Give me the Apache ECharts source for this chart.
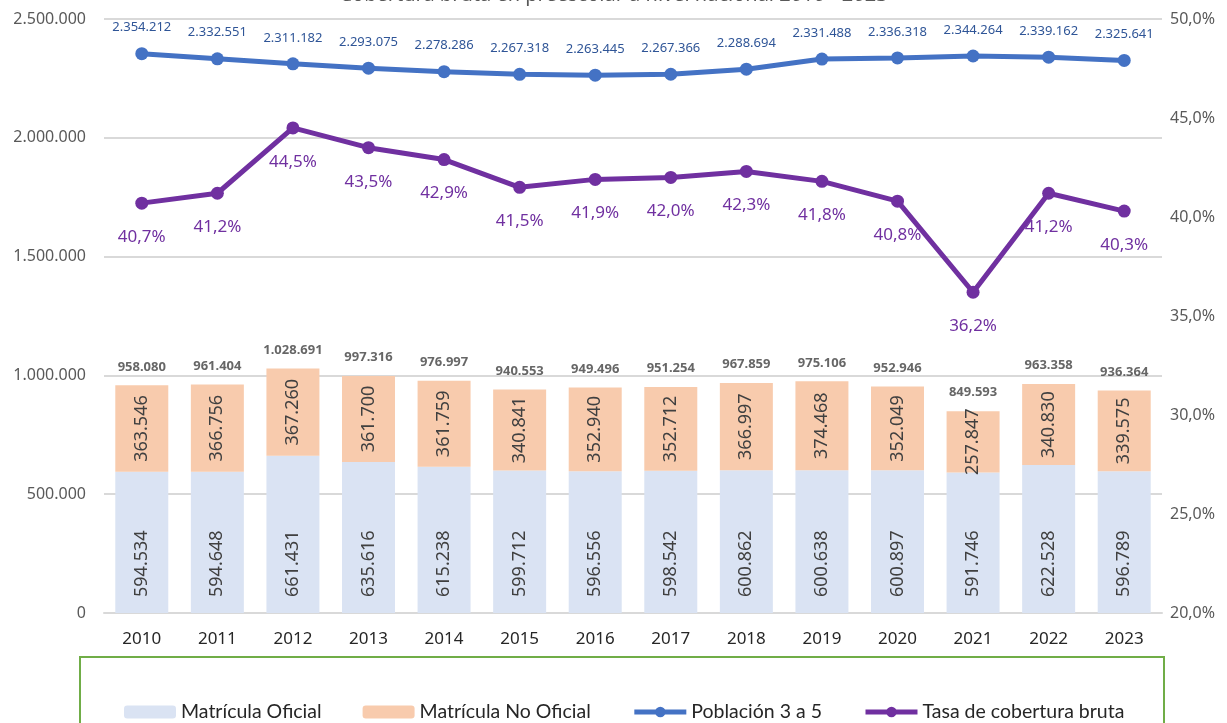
<!DOCTYPE html>
<html>
<head>
<meta charset="utf-8">
<script src="https://cdn.jsdelivr.net/npm/echarts@6/dist/echarts.min.js"></script>
<style>
  html, body { margin: 0; padding: 0; background: #fff; }
  #chart { width: 1227px; height: 723px; }
</style>
</head>
<body>
<div id="chart"></div>
<script>
const years = ['2010', '2011', '2012', '2013', '2014', '2015', '2016', '2017', '2018', '2019', '2020', '2021', '2022', '2023'];
const matriculaOficial = [594534, 594648, 661431, 635616, 615238, 599712, 596556, 598542, 600862, 600638, 600897, 591746, 622528, 596789];
const matriculaNoOficial = [363546, 366756, 367260, 361700, 361759, 340841, 352940, 352712, 366997, 374468, 352049, 257847, 340830, 339575];
const poblacion = [2354212, 2332551, 2311182, 2293075, 2278286, 2267318, 2263445, 2267366, 2288694, 2331488, 2336318, 2344264, 2339162, 2325641];
const tasaCobertura = [40.7, 41.2, 44.5, 43.5, 42.9, 41.5, 41.9, 42.0, 42.3, 41.8, 40.8, 36.2, 41.2, 40.3];
const leftTicks = [0, 500000, 1000000, 1500000, 2000000, 2500000];
const rightTicks = [20, 25, 30, 35, 40, 45, 50];

// total de matrícula (oficial + no oficial) para la etiqueta sobre cada barra
const totales = matriculaOficial.map((v, i) => v + matriculaNoOficial[i]);

const miles = n => String(n).replace(/\B(?=(\d{3})+(?!\d))/g, '.');
const pct = v => v.toFixed(1).replace('.', ',') + '%';

const FONT = 'Noto Sans';
const chart = echarts.init(document.getElementById('chart'));

chart.setOption({
  animation: false,
  textStyle: { fontFamily: FONT },
  title: {
    text: 'Cobertura bruta en preescolar a nivel nacional 2010 - 2023',
    left: 'center',
    top: -20,
    textStyle: { fontFamily: FONT, fontSize: 20, fontWeight: 'normal', color: '#595959' }
  },
  grid: { left: 104, right: 65, top: 19, bottom: 110 },
  legend: {
    left: 119,
    top: 697,
    itemWidth: 52,
    itemHeight: 13,
    itemGap: 41,
    lineStyle: { width: 5 },
    textStyle: { fontFamily: 'Lato', fontSize: 19.5, color: '#262626' },
    data: ['Matrícula Oficial', 'Matrícula No Oficial', 'Población 3 a 5', 'Tasa de cobertura bruta']
  },
  graphic: [{
    type: 'rect',
    shape: { x: 80, y: 657, width: 1084, height: 90 },
    style: { fill: 'none', stroke: '#70AD47', lineWidth: 2 }
  }],
  xAxis: {
    type: 'category',
    data: years,
    axisTick: { show: false },
    axisLine: { lineStyle: { color: '#D9D9D9', width: 2 } },
    axisLabel: { margin: 18, fontSize: 17, color: '#262626' }
  },
  yAxis: [{
    type: 'value',
    min: leftTicks[0],
    max: leftTicks[leftTicks.length - 1],
    interval: leftTicks[1] - leftTicks[0],
    axisLabel: { margin: 18, fontSize: 16, color: '#595959', formatter: miles },
    splitLine: { lineStyle: { color: '#D9D9D9', width: 2 } }
  }, {
    type: 'value',
    min: rightTicks[0],
    max: rightTicks[rightTicks.length - 1],
    interval: rightTicks[1] - rightTicks[0],
    axisLabel: { margin: 8, fontSize: 16, color: '#595959', formatter: pct },
    splitLine: { show: false }
  }],
  series: [{
    name: 'Matrícula Oficial',
    type: 'bar',
    stack: 'matricula',
    barWidth: 53,
    data: matriculaOficial,
    itemStyle: { color: '#DAE3F3' },
    label: {
      show: true,
      position: 'insideBottom',
      distance: 16,
      rotate: 90,
      align: 'left',
      verticalAlign: 'middle',
      fontSize: 18,
      color: '#404040',
      formatter: p => miles(p.value)
    }
  }, {
    name: 'Matrícula No Oficial',
    type: 'bar',
    stack: 'matricula',
    barWidth: 53,
    data: matriculaNoOficial,
    itemStyle: { color: '#F8CBAD' },
    label: {
      show: true,
      position: 'inside',
      rotate: 90,
      fontSize: 18,
      color: '#404040',
      formatter: p => miles(p.value)
    }
  }, {
    name: 'Total',
    type: 'scatter',
    data: totales,
    symbolSize: 0,
    silent: true,
    label: {
      show: true,
      position: 'top',
      distance: 12,
      fontSize: 13,
      fontWeight: 'bold',
      color: '#404040',
      formatter: p => miles(p.value)
    }
  }, {
    name: 'Población 3 a 5',
    type: 'line',
    data: poblacion,
    symbol: 'circle',
    symbolSize: 13,
    color: '#4472C4',
    lineStyle: { width: 5, color: '#4472C4' },
    itemStyle: { color: '#4472C4' },
    label: {
      show: true,
      position: 'top',
      distance: 13,
      fontSize: 13,
      color: '#2F5597',
      formatter: p => miles(p.value)
    }
  }, {
    name: 'Tasa de cobertura bruta',
    type: 'line',
    yAxisIndex: 1,
    data: tasaCobertura,
    symbol: 'circle',
    symbolSize: 13,
    color: '#7030A0',
    lineStyle: { width: 5, color: '#7030A0' },
    itemStyle: { color: '#7030A0' },
    label: {
      show: true,
      position: 'bottom',
      distance: 19,
      fontSize: 17,
      color: '#7030A0',
      formatter: p => pct(p.value)
    }
  }]
});
</script>
</body>
</html>
